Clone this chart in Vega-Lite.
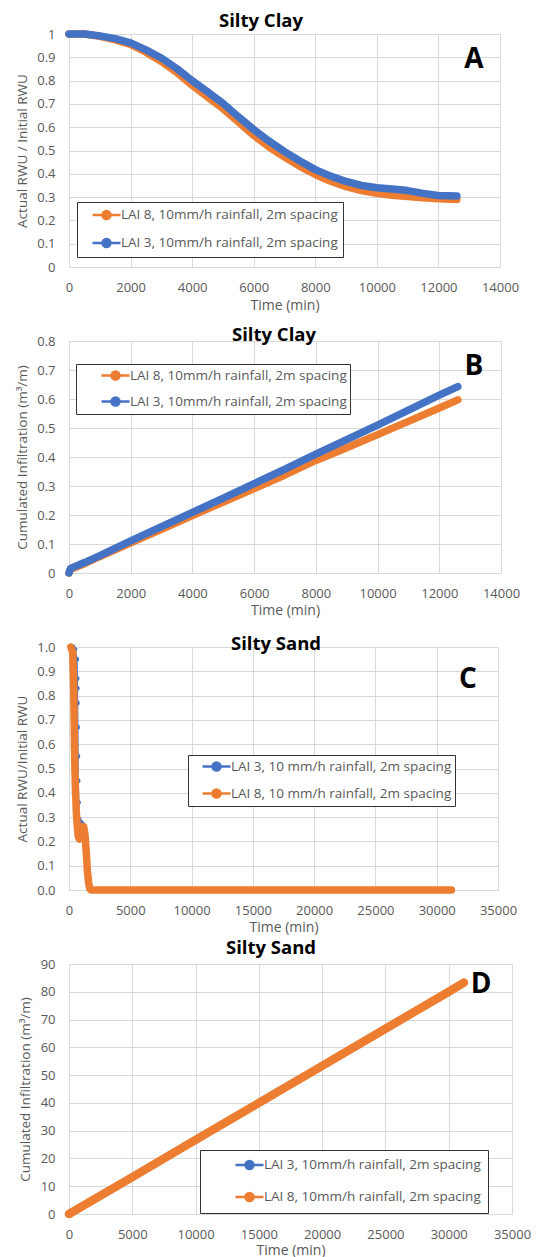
{
  "$schema": "https://vega.github.io/schema/vega-lite/v6.json",
  "background": "white",
  "padding": {"left": 15, "top": 11, "right": 0, "bottom": 0},
  "datasets": {
    "A": [
      {"series": "LAI 8, 10mm/h rainfall, 2m spacing", "t": 0, "v": 1.0},
      {"series": "LAI 8, 10mm/h rainfall, 2m spacing", "t": 500, "v": 1.0},
      {"series": "LAI 8, 10mm/h rainfall, 2m spacing", "t": 1000, "v": 0.99},
      {"series": "LAI 8, 10mm/h rainfall, 2m spacing", "t": 1500, "v": 0.975},
      {"series": "LAI 8, 10mm/h rainfall, 2m spacing", "t": 2000, "v": 0.955},
      {"series": "LAI 8, 10mm/h rainfall, 2m spacing", "t": 2500, "v": 0.922},
      {"series": "LAI 8, 10mm/h rainfall, 2m spacing", "t": 3000, "v": 0.882},
      {"series": "LAI 8, 10mm/h rainfall, 2m spacing", "t": 3500, "v": 0.835},
      {"series": "LAI 8, 10mm/h rainfall, 2m spacing", "t": 4000, "v": 0.78},
      {"series": "LAI 8, 10mm/h rainfall, 2m spacing", "t": 4500, "v": 0.73},
      {"series": "LAI 8, 10mm/h rainfall, 2m spacing", "t": 5000, "v": 0.68},
      {"series": "LAI 8, 10mm/h rainfall, 2m spacing", "t": 5500, "v": 0.623},
      {"series": "LAI 8, 10mm/h rainfall, 2m spacing", "t": 6000, "v": 0.565},
      {"series": "LAI 8, 10mm/h rainfall, 2m spacing", "t": 6500, "v": 0.515},
      {"series": "LAI 8, 10mm/h rainfall, 2m spacing", "t": 7000, "v": 0.472},
      {"series": "LAI 8, 10mm/h rainfall, 2m spacing", "t": 7500, "v": 0.432},
      {"series": "LAI 8, 10mm/h rainfall, 2m spacing", "t": 8000, "v": 0.397},
      {"series": "LAI 8, 10mm/h rainfall, 2m spacing", "t": 8500, "v": 0.368},
      {"series": "LAI 8, 10mm/h rainfall, 2m spacing", "t": 9000, "v": 0.345},
      {"series": "LAI 8, 10mm/h rainfall, 2m spacing", "t": 9500, "v": 0.328},
      {"series": "LAI 8, 10mm/h rainfall, 2m spacing", "t": 10000, "v": 0.316},
      {"series": "LAI 8, 10mm/h rainfall, 2m spacing", "t": 10500, "v": 0.308},
      {"series": "LAI 8, 10mm/h rainfall, 2m spacing", "t": 11000, "v": 0.303},
      {"series": "LAI 8, 10mm/h rainfall, 2m spacing", "t": 11500, "v": 0.297},
      {"series": "LAI 8, 10mm/h rainfall, 2m spacing", "t": 12000, "v": 0.293},
      {"series": "LAI 8, 10mm/h rainfall, 2m spacing", "t": 12600, "v": 0.29},
      {"series": "LAI 3, 10mm/h rainfall, 2m spacing", "t": 0, "v": 1.0},
      {"series": "LAI 3, 10mm/h rainfall, 2m spacing", "t": 500, "v": 1.0},
      {"series": "LAI 3, 10mm/h rainfall, 2m spacing", "t": 1000, "v": 0.992},
      {"series": "LAI 3, 10mm/h rainfall, 2m spacing", "t": 1500, "v": 0.98},
      {"series": "LAI 3, 10mm/h rainfall, 2m spacing", "t": 2000, "v": 0.962},
      {"series": "LAI 3, 10mm/h rainfall, 2m spacing", "t": 2500, "v": 0.932},
      {"series": "LAI 3, 10mm/h rainfall, 2m spacing", "t": 3000, "v": 0.897},
      {"series": "LAI 3, 10mm/h rainfall, 2m spacing", "t": 3500, "v": 0.852},
      {"series": "LAI 3, 10mm/h rainfall, 2m spacing", "t": 4000, "v": 0.8},
      {"series": "LAI 3, 10mm/h rainfall, 2m spacing", "t": 4500, "v": 0.752},
      {"series": "LAI 3, 10mm/h rainfall, 2m spacing", "t": 5000, "v": 0.703},
      {"series": "LAI 3, 10mm/h rainfall, 2m spacing", "t": 5500, "v": 0.645},
      {"series": "LAI 3, 10mm/h rainfall, 2m spacing", "t": 6000, "v": 0.59},
      {"series": "LAI 3, 10mm/h rainfall, 2m spacing", "t": 6500, "v": 0.54},
      {"series": "LAI 3, 10mm/h rainfall, 2m spacing", "t": 7000, "v": 0.495},
      {"series": "LAI 3, 10mm/h rainfall, 2m spacing", "t": 7500, "v": 0.455},
      {"series": "LAI 3, 10mm/h rainfall, 2m spacing", "t": 8000, "v": 0.418},
      {"series": "LAI 3, 10mm/h rainfall, 2m spacing", "t": 8500, "v": 0.39},
      {"series": "LAI 3, 10mm/h rainfall, 2m spacing", "t": 9000, "v": 0.367},
      {"series": "LAI 3, 10mm/h rainfall, 2m spacing", "t": 9500, "v": 0.35},
      {"series": "LAI 3, 10mm/h rainfall, 2m spacing", "t": 10000, "v": 0.34},
      {"series": "LAI 3, 10mm/h rainfall, 2m spacing", "t": 10500, "v": 0.335},
      {"series": "LAI 3, 10mm/h rainfall, 2m spacing", "t": 11000, "v": 0.328},
      {"series": "LAI 3, 10mm/h rainfall, 2m spacing", "t": 11500, "v": 0.316},
      {"series": "LAI 3, 10mm/h rainfall, 2m spacing", "t": 12000, "v": 0.307},
      {"series": "LAI 3, 10mm/h rainfall, 2m spacing", "t": 12600, "v": 0.305}
    ],
    "B": [
      {"series": "LAI 8, 10mm/h rainfall, 2m spacing", "t": 0, "v": 0},
      {"series": "LAI 8, 10mm/h rainfall, 2m spacing", "t": 50, "v": 0.013},
      {"series": "LAI 8, 10mm/h rainfall, 2m spacing", "t": 500, "v": 0.032},
      {"series": "LAI 8, 10mm/h rainfall, 2m spacing", "t": 1000, "v": 0.057},
      {"series": "LAI 8, 10mm/h rainfall, 2m spacing", "t": 2000, "v": 0.104},
      {"series": "LAI 8, 10mm/h rainfall, 2m spacing", "t": 3000, "v": 0.151},
      {"series": "LAI 8, 10mm/h rainfall, 2m spacing", "t": 4000, "v": 0.198},
      {"series": "LAI 8, 10mm/h rainfall, 2m spacing", "t": 5000, "v": 0.245},
      {"series": "LAI 8, 10mm/h rainfall, 2m spacing", "t": 6000, "v": 0.291},
      {"series": "LAI 8, 10mm/h rainfall, 2m spacing", "t": 7000, "v": 0.338},
      {"series": "LAI 8, 10mm/h rainfall, 2m spacing", "t": 8000, "v": 0.388},
      {"series": "LAI 8, 10mm/h rainfall, 2m spacing", "t": 9000, "v": 0.432},
      {"series": "LAI 8, 10mm/h rainfall, 2m spacing", "t": 10000, "v": 0.477},
      {"series": "LAI 8, 10mm/h rainfall, 2m spacing", "t": 11000, "v": 0.523},
      {"series": "LAI 8, 10mm/h rainfall, 2m spacing", "t": 12000, "v": 0.569},
      {"series": "LAI 8, 10mm/h rainfall, 2m spacing", "t": 12600, "v": 0.597},
      {"series": "LAI 3, 10mm/h rainfall, 2m spacing", "t": 0, "v": 0},
      {"series": "LAI 3, 10mm/h rainfall, 2m spacing", "t": 50, "v": 0.016},
      {"series": "LAI 3, 10mm/h rainfall, 2m spacing", "t": 500, "v": 0.036},
      {"series": "LAI 3, 10mm/h rainfall, 2m spacing", "t": 1000, "v": 0.06},
      {"series": "LAI 3, 10mm/h rainfall, 2m spacing", "t": 2000, "v": 0.111},
      {"series": "LAI 3, 10mm/h rainfall, 2m spacing", "t": 3000, "v": 0.16},
      {"series": "LAI 3, 10mm/h rainfall, 2m spacing", "t": 4000, "v": 0.209},
      {"series": "LAI 3, 10mm/h rainfall, 2m spacing", "t": 5000, "v": 0.258},
      {"series": "LAI 3, 10mm/h rainfall, 2m spacing", "t": 6000, "v": 0.308},
      {"series": "LAI 3, 10mm/h rainfall, 2m spacing", "t": 7000, "v": 0.358},
      {"series": "LAI 3, 10mm/h rainfall, 2m spacing", "t": 8000, "v": 0.41},
      {"series": "LAI 3, 10mm/h rainfall, 2m spacing", "t": 9000, "v": 0.46},
      {"series": "LAI 3, 10mm/h rainfall, 2m spacing", "t": 10000, "v": 0.51},
      {"series": "LAI 3, 10mm/h rainfall, 2m spacing", "t": 11000, "v": 0.562},
      {"series": "LAI 3, 10mm/h rainfall, 2m spacing", "t": 12000, "v": 0.613},
      {"series": "LAI 3, 10mm/h rainfall, 2m spacing", "t": 12600, "v": 0.643}
    ],
    "C": [
      {"series": "LAI 3, 10 mm/h rainfall, 2m spacing", "t": 150, "v": 1.0},
      {"series": "LAI 3, 10 mm/h rainfall, 2m spacing", "t": 300, "v": 1.0},
      {"series": "LAI 3, 10 mm/h rainfall, 2m spacing", "t": 450, "v": 0.99},
      {"series": "LAI 3, 10 mm/h rainfall, 2m spacing", "t": 600, "v": 0.95},
      {"series": "LAI 3, 10 mm/h rainfall, 2m spacing", "t": 630, "v": 0.87},
      {"series": "LAI 3, 10 mm/h rainfall, 2m spacing", "t": 640, "v": 0.83},
      {"series": "LAI 3, 10 mm/h rainfall, 2m spacing", "t": 650, "v": 0.77},
      {"series": "LAI 3, 10 mm/h rainfall, 2m spacing", "t": 670, "v": 0.67},
      {"series": "LAI 3, 10 mm/h rainfall, 2m spacing", "t": 690, "v": 0.55},
      {"series": "LAI 3, 10 mm/h rainfall, 2m spacing", "t": 710, "v": 0.45},
      {"series": "LAI 3, 10 mm/h rainfall, 2m spacing", "t": 740, "v": 0.36},
      {"series": "LAI 3, 10 mm/h rainfall, 2m spacing", "t": 790, "v": 0.29},
      {"series": "LAI 3, 10 mm/h rainfall, 2m spacing", "t": 900, "v": 0.28},
      {"series": "LAI 3, 10 mm/h rainfall, 2m spacing", "t": 1000, "v": 0.275},
      {"series": "LAI 3, 10 mm/h rainfall, 2m spacing", "t": 1100, "v": 0.27},
      {"series": "LAI 3, 10 mm/h rainfall, 2m spacing", "t": 1200, "v": 0.26},
      {"series": "LAI 3, 10 mm/h rainfall, 2m spacing", "t": 1300, "v": 0.23},
      {"series": "LAI 3, 10 mm/h rainfall, 2m spacing", "t": 1400, "v": 0.16},
      {"series": "LAI 3, 10 mm/h rainfall, 2m spacing", "t": 1500, "v": 0.08},
      {"series": "LAI 3, 10 mm/h rainfall, 2m spacing", "t": 1600, "v": 0.03},
      {"series": "LAI 3, 10 mm/h rainfall, 2m spacing", "t": 1700, "v": 0.005},
      {"series": "LAI 3, 10 mm/h rainfall, 2m spacing", "t": 1800, "v": 0},
      {"series": "LAI 3, 10 mm/h rainfall, 2m spacing", "t": 31200, "v": 0},
      {"series": "LAI 8, 10 mm/h rainfall, 2m spacing", "t": 150, "v": 1.0},
      {"series": "LAI 8, 10 mm/h rainfall, 2m spacing", "t": 300, "v": 0.98},
      {"series": "LAI 8, 10 mm/h rainfall, 2m spacing", "t": 380, "v": 0.85},
      {"series": "LAI 8, 10 mm/h rainfall, 2m spacing", "t": 420, "v": 0.7},
      {"series": "LAI 8, 10 mm/h rainfall, 2m spacing", "t": 460, "v": 0.55},
      {"series": "LAI 8, 10 mm/h rainfall, 2m spacing", "t": 520, "v": 0.42},
      {"series": "LAI 8, 10 mm/h rainfall, 2m spacing", "t": 600, "v": 0.32},
      {"series": "LAI 8, 10 mm/h rainfall, 2m spacing", "t": 680, "v": 0.26},
      {"series": "LAI 8, 10 mm/h rainfall, 2m spacing", "t": 760, "v": 0.22},
      {"series": "LAI 8, 10 mm/h rainfall, 2m spacing", "t": 860, "v": 0.21},
      {"series": "LAI 8, 10 mm/h rainfall, 2m spacing", "t": 950, "v": 0.24},
      {"series": "LAI 8, 10 mm/h rainfall, 2m spacing", "t": 1050, "v": 0.26},
      {"series": "LAI 8, 10 mm/h rainfall, 2m spacing", "t": 1200, "v": 0.26},
      {"series": "LAI 8, 10 mm/h rainfall, 2m spacing", "t": 1300, "v": 0.23},
      {"series": "LAI 8, 10 mm/h rainfall, 2m spacing", "t": 1400, "v": 0.16},
      {"series": "LAI 8, 10 mm/h rainfall, 2m spacing", "t": 1500, "v": 0.08},
      {"series": "LAI 8, 10 mm/h rainfall, 2m spacing", "t": 1600, "v": 0.03},
      {"series": "LAI 8, 10 mm/h rainfall, 2m spacing", "t": 1700, "v": 0.005},
      {"series": "LAI 8, 10 mm/h rainfall, 2m spacing", "t": 1800, "v": 0},
      {"series": "LAI 8, 10 mm/h rainfall, 2m spacing", "t": 31200, "v": 0}
    ],
    "D": [
      {"series": "LAI 3, 10mm/h rainfall, 2m spacing", "t": 0, "v": 0},
      {"series": "LAI 3, 10mm/h rainfall, 2m spacing", "t": 5000, "v": 13.3},
      {"series": "LAI 3, 10mm/h rainfall, 2m spacing", "t": 10000, "v": 26.7},
      {"series": "LAI 3, 10mm/h rainfall, 2m spacing", "t": 15000, "v": 40},
      {"series": "LAI 3, 10mm/h rainfall, 2m spacing", "t": 20000, "v": 53.3},
      {"series": "LAI 3, 10mm/h rainfall, 2m spacing", "t": 25000, "v": 66.7},
      {"series": "LAI 3, 10mm/h rainfall, 2m spacing", "t": 30000, "v": 80},
      {"series": "LAI 3, 10mm/h rainfall, 2m spacing", "t": 31200, "v": 83.3},
      {"series": "LAI 8, 10mm/h rainfall, 2m spacing", "t": 0, "v": 0},
      {"series": "LAI 8, 10mm/h rainfall, 2m spacing", "t": 5000, "v": 13.3},
      {"series": "LAI 8, 10mm/h rainfall, 2m spacing", "t": 10000, "v": 26.7},
      {"series": "LAI 8, 10mm/h rainfall, 2m spacing", "t": 15000, "v": 40},
      {"series": "LAI 8, 10mm/h rainfall, 2m spacing", "t": 20000, "v": 53.3},
      {"series": "LAI 8, 10mm/h rainfall, 2m spacing", "t": 25000, "v": 66.7},
      {"series": "LAI 8, 10mm/h rainfall, 2m spacing", "t": 30000, "v": 80},
      {"series": "LAI 8, 10mm/h rainfall, 2m spacing", "t": 31200, "v": 83.3}
    ]
  },
  "vconcat": [
    {
      "width": 431, "height": 233,
      "data": {"name": "A"},
      "title": {"text": "Silty Clay", "dx": -23.5, "offset": -17, "baseline": "alphabetic", "frame": "group"},
      "layer": [
        {
          "transform": [{"filter": "indexof(datum.series, 'LAI 8') === 0"}],
          "mark": {"type": "line", "strokeWidth": 7.5, "strokeCap": "round", "strokeJoin": "round"},
          "encoding": {
            "x": {"field": "t", "type": "quantitative", "scale": {"domain": [0, 14000], "nice": false},
                  "axis": {"title": "Time (min)", "values": [0, 2000, 4000, 6000, 8000, 10000, 12000, 14000], "tickCount": 30, "format": "d", "titlePadding": 4}},
            "y": {"field": "v", "type": "quantitative", "scale": {"domain": [0, 1], "nice": false},
                  "axis": {"title": "Actual RWU / Initial RWU", "values": [0, 0.1, 0.2, 0.3, 0.4, 0.5, 0.6, 0.7, 0.8, 0.9, 1], "tickCount": 30, "format": "~g"}},
            "color": {"field": "series", "type": "nominal",
                      "scale": {"domain": ["LAI 8, 10mm/h rainfall, 2m spacing", "LAI 3, 10mm/h rainfall, 2m spacing"], "range": ["#ED7D31", "#4472C4"]},
                      "legend": {"orient": "none", "legendX": 8, "legendY": 168, "padding": 4.5, "rowPadding": 9, "symbolOffset": 16.5,
                                 "encode": {"symbols": {"update": {
                                   "fill": [{"test": "indexof(datum.value, 'LAI 8') === 0", "value": "#ED7D31"}, {"value": "#4472C4"}],
                                   "stroke": [{"test": "indexof(datum.value, 'LAI 8') === 0", "value": "#ED7D31"}, {"value": "#4472C4"}]}}}}}
          }
        },
        {
          "transform": [{"filter": "indexof(datum.series, 'LAI 3') === 0"}],
          "mark": {"type": "line", "strokeWidth": 7.5, "strokeCap": "round", "strokeJoin": "round"},
          "encoding": {
            "x": {"field": "t", "type": "quantitative"},
            "y": {"field": "v", "type": "quantitative"},
            "color": {"field": "series", "type": "nominal"}
          }
        },
        {
          "data": {"values": [{"label": "A"}]},
          "mark": {"type": "text", "fontSize": 28, "fontWeight": "bold", "color": "#000000", "font": "Open Sans"},
          "encoding": {"x": {"datum": 13150}, "y": {"datum": 0.888}, "text": {"field": "label"}}
        }
      ]
    },
    {
      "width": 432, "height": 232,
      "data": {"name": "B"},
      "title": {"text": "Silty Clay", "dx": -11, "offset": -24, "baseline": "alphabetic", "frame": "group"},
      "layer": [
        {
          "transform": [{"filter": "indexof(datum.series, 'LAI 8') === 0"}],
          "mark": {"type": "line", "strokeWidth": 7.5, "strokeCap": "round", "strokeJoin": "round"},
          "encoding": {
            "x": {"field": "t", "type": "quantitative", "scale": {"domain": [0, 14000], "nice": false},
                  "axis": {"title": "Time (min)", "values": [0, 2000, 4000, 6000, 8000, 10000, 12000, 14000], "tickCount": 30, "format": "d", "titlePadding": 3}},
            "y": {"field": "v", "type": "quantitative", "scale": {"domain": [0, 0.8], "nice": false},
                  "axis": {"title": "Cumulated Infiltration  (m³/m)", "values": [0, 0.1, 0.2, 0.3, 0.4, 0.5, 0.6, 0.7, 0.8], "tickCount": 30, "format": "~g"}},
            "color": {"field": "series", "type": "nominal",
                      "scale": {"domain": ["LAI 8, 10mm/h rainfall, 2m spacing", "LAI 3, 10mm/h rainfall, 2m spacing"], "range": ["#ED7D31", "#4472C4"]},
                      "legend": {"orient": "none", "legendX": 7, "legendY": 23, "padding": 3, "rowPadding": 7, "symbolOffset": 28,
                                 "encode": {"symbols": {"update": {
                                   "fill": [{"test": "indexof(datum.value, 'LAI 8') === 0", "value": "#ED7D31"}, {"value": "#4472C4"}],
                                   "stroke": [{"test": "indexof(datum.value, 'LAI 8') === 0", "value": "#ED7D31"}, {"value": "#4472C4"}]}}}}}
          }
        },
        {
          "transform": [{"filter": "indexof(datum.series, 'LAI 3') === 0"}],
          "mark": {"type": "line", "strokeWidth": 7.5, "strokeCap": "round", "strokeJoin": "round"},
          "encoding": {
            "x": {"field": "t", "type": "quantitative"},
            "y": {"field": "v", "type": "quantitative"},
            "color": {"field": "series", "type": "nominal"}
          }
        },
        {
          "data": {"values": [{"label": "B"}]},
          "mark": {"type": "text", "fontSize": 28, "fontWeight": "bold", "color": "#000000", "font": "Open Sans"},
          "encoding": {"x": {"datum": 13125}, "y": {"datum": 0.71}, "text": {"field": "label"}}
        }
      ]
    },
    {
      "width": 429, "height": 243,
      "data": {"name": "C"},
      "title": {"text": "Silty Sand", "dx": -7.5, "offset": -27, "baseline": "alphabetic", "frame": "group"},
      "layer": [
        {
          "transform": [{"filter": "indexof(datum.series, 'LAI 3') === 0"}],
          "mark": {"type": "line", "strokeWidth": 2.5, "point": {"filled": true, "size": 30}},
          "encoding": {
            "x": {"field": "t", "type": "quantitative", "scale": {"domain": [0, 35000], "nice": false},
                  "axis": {"title": "Time (min)", "values": [0, 5000, 10000, 15000, 20000, 25000, 30000, 35000], "tickCount": 30, "format": "d", "titlePadding": 3}},
            "y": {"field": "v", "type": "quantitative", "scale": {"domain": [0, 1], "nice": false},
                  "axis": {"title": "Actual RWU/Initial RWU", "values": [0, 0.1, 0.2, 0.3, 0.4, 0.5, 0.6, 0.7, 0.8, 0.9, 1], "tickCount": 30, "format": ".1f"}},
            "color": {"field": "series", "type": "nominal",
                      "scale": {"domain": ["LAI 3, 10 mm/h rainfall, 2m spacing", "LAI 8, 10 mm/h rainfall, 2m spacing"], "range": ["#4472C4", "#ED7D31"]},
                      "legend": {"orient": "none", "legendX": 119, "legendY": 108, "padding": 3, "rowPadding": 8, "symbolOffset": 17,
                                 "encode": {"symbols": {"update": {
                                   "fill": [{"test": "indexof(datum.value, 'LAI 8') === 0", "value": "#ED7D31"}, {"value": "#4472C4"}],
                                   "stroke": [{"test": "indexof(datum.value, 'LAI 8') === 0", "value": "#ED7D31"}, {"value": "#4472C4"}]}}}}}
          }
        },
        {
          "transform": [{"filter": "indexof(datum.series, 'LAI 8') === 0"}],
          "mark": {"type": "line", "strokeWidth": 7.5, "strokeCap": "round", "strokeJoin": "round"},
          "encoding": {
            "x": {"field": "t", "type": "quantitative"},
            "y": {"field": "v", "type": "quantitative"},
            "color": {"field": "series", "type": "nominal"}
          }
        },
        {
          "data": {"values": [{"label": "C"}]},
          "mark": {"type": "text", "fontSize": 28, "fontWeight": "bold", "color": "#000000", "font": "Open Sans"},
          "encoding": {"x": {"datum": 32550}, "y": {"datum": 0.864}, "text": {"field": "label"}}
        }
      ]
    },
    {
      "width": 443, "height": 250,
      "data": {"name": "D"},
      "title": {"text": "Silty Sand", "dx": -19.5, "offset": -14, "baseline": "alphabetic", "frame": "group"},
      "layer": [
        {
          "transform": [{"filter": "indexof(datum.series, 'LAI 3') === 0"}],
          "mark": {"type": "line", "strokeWidth": 7, "strokeCap": "round", "strokeJoin": "round"},
          "encoding": {
            "x": {"field": "t", "type": "quantitative", "scale": {"domain": [0, 35000], "nice": false},
                  "axis": {"title": "Time (min)", "values": [0, 5000, 10000, 15000, 20000, 25000, 30000, 35000], "tickCount": 30, "format": "d", "titlePadding": 2}},
            "y": {"field": "v", "type": "quantitative", "scale": {"domain": [0, 90], "nice": false},
                  "axis": {"title": "Cumulated Infiltration  (m³/m)", "values": [0, 10, 20, 30, 40, 50, 60, 70, 80, 90], "tickCount": 30, "format": "d"}},
            "color": {"field": "series", "type": "nominal",
                      "scale": {"domain": ["LAI 3, 10mm/h rainfall, 2m spacing", "LAI 8, 10mm/h rainfall, 2m spacing"], "range": ["#4472C4", "#ED7D31"]},
                      "legend": {"orient": "none", "legendX": 131, "legendY": 186, "padding": 6.5, "rowPadding": 13, "symbolOffset": 34.5,
                                 "encode": {"symbols": {"update": {
                                   "fill": [{"test": "indexof(datum.value, 'LAI 8') === 0", "value": "#ED7D31"}, {"value": "#4472C4"}],
                                   "stroke": [{"test": "indexof(datum.value, 'LAI 8') === 0", "value": "#ED7D31"}, {"value": "#4472C4"}]}}}}}
          }
        },
        {
          "transform": [{"filter": "indexof(datum.series, 'LAI 8') === 0"}],
          "mark": {"type": "line", "strokeWidth": 8.5, "strokeCap": "round", "strokeJoin": "round"},
          "encoding": {
            "x": {"field": "t", "type": "quantitative"},
            "y": {"field": "v", "type": "quantitative"},
            "color": {"field": "series", "type": "nominal"}
          }
        },
        {
          "data": {"values": [{"label": "D"}]},
          "mark": {"type": "text", "fontSize": 28, "fontWeight": "bold", "color": "#000000", "font": "Open Sans"},
          "encoding": {"x": {"datum": 32550}, "y": {"datum": 82.4}, "text": {"field": "label"}}
        }
      ]
    }
  ],
  "spacing": 74,
  "bounds": "flush",
  "resolve": {
    "scale": {"x": "independent", "y": "independent", "color": "independent"},
    "axis": {"x": "independent", "y": "independent"},
    "legend": {"color": "independent"}
  },
  "config": {
    "font": "Open Sans",
    "view": {"stroke": null},
    "axis": {
      "labelFont": "Open Sans", "labelFontSize": 13, "labelColor": "#595959",
      "titleFont": "Open Sans", "titleFontSize": 13.5, "titleColor": "#595959", "titleFontWeight": "normal",
      "gridColor": "#d9d9d9", "gridWidth": 1, "domain": false, "ticks": false,
      "labelOverlap": false, "labelFlush": false
    },
    "axisX": {"labelPadding": 14, "titleFontSize": 14},
    "axisY": {"labelPadding": 14, "titlePadding": 7.5},
    "title": {"font": "Open Sans", "fontSize": 18.5, "fontWeight": "bold", "color": "#000000"},
    "legend": {
      "title": null,
      "labelFont": "Open Sans", "labelFontSize": 13.5, "labelColor": "#595959", "labelLimit": 400,
      "strokeColor": "#333333", "fillColor": "white",
      "symbolType": "M-2,0H2M-0.57,0A0.57,0.57,0,1,1,0.57,0A0.57,0.57,0,1,1,-0.57,0Z",
      "symbolSize": 196, "symbolStrokeWidth": 2.5, "labelOffset": 6
    }
  }
}
